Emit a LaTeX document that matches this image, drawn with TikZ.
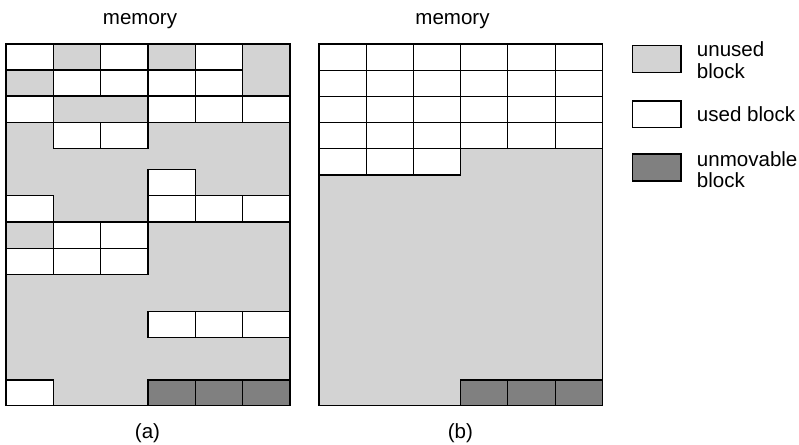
\documentclass[tikz,border=0pt]{standalone}
\usepackage{fontspec}
\setmainfont{Liberation Sans}
\definecolor{unusedgray}{HTML}{D3D3D3}
\definecolor{fixedgray}{HTML}{808080}
\begin{document}
\begin{tikzpicture}[x=0.75pt,y=-0.75pt,
  blk/.style={draw=black,line width=0.9pt},
  usedblk/.style={blk,fill=white},
  fixblk/.style={blk,fill=fixedgray},
  freearea/.style={blk,fill=unusedgray},
  lbl/.style={font=\fontsize{15.4}{18.5}\selectfont,inner sep=0pt}]
\useasboundingbox (0,0) rectangle (799,445);

% ---------- panel (a) ----------
\path[freearea] (6,44) rectangle (290,405.7);
\foreach \c/\t/\b in {0/44/70, 2/44/70, 4/44/70,
  1/70/96, 2/70/96, 3/70/96, 4/70/96,
  0/96/122.3, 3/96/122.3, 4/96/122.3, 5/96/122.3,
  1/122.3/148.3, 2/122.3/148.3,
  3/169.5/195.7,
  0/195.7/222, 3/195.7/222, 4/195.7/222, 5/195.7/222,
  1/222/248.3, 2/222/248.3,
  0/248.3/274.3, 1/248.3/274.3, 2/248.3/274.3,
  3/311.7/337.7, 4/311.7/337.7, 5/311.7/337.7,
  0/380/405.7}
  \draw[usedblk] ({6+\c*47.33},\t) rectangle ({6+(\c+1)*47.33},\b);
\foreach \c in {3,4,5}
  \draw[fixblk] ({6+\c*47.33},380) rectangle ({6+(\c+1)*47.33},405.7);
\draw[blk] (6,44) rectangle (290,405.7);

% ---------- panel (b) ----------
\path[freearea] (319,44) rectangle (602.3,405.7);
\foreach \r/\t/\b in {0/44/70.2, 1/70.2/96.2, 2/96.2/122.3, 3/122.3/148.3}
  \foreach \c in {0,...,5}
    \draw[usedblk] ({319+\c*47.22},\t) rectangle ({319+(\c+1)*47.22},\b);
\foreach \c in {0,1,2}
  \draw[usedblk] ({319+\c*47.22},148.3) rectangle ({319+(\c+1)*47.22},175);
\foreach \c in {3,4,5}
  \draw[fixblk] ({319+\c*47.22},380) rectangle ({319+(\c+1)*47.22},405.7);
\draw[blk] (319,44) rectangle (602.3,405.7);

% ---------- labels ----------
\node[lbl,anchor=base] (mema) at (140,25) {memory};
\node[lbl,anchor=base] (memb) at (452.5,25) {memory};
\node[lbl,anchor=base] (capa) at (147.5,438.5) {(a)};
\node[lbl,anchor=base] (capb) at (460.3,438.5) {(b)};

% ---------- legend ----------
\draw[freearea] (632.7,45.7) rectangle (681,72.3);
\draw[usedblk] (632.7,101) rectangle (681,127.7);
\draw[fixblk] (632.7,154) rectangle (681,181);
\node[lbl,anchor=base west] (lgunusedA) at (696.7,56.7) {unused};
\node[lbl,anchor=base west] (lgunusedB) at (696.7,78.3) {block};
\node[lbl,anchor=base west] (lgused) at (696.7,121.7) {used block};
\node[lbl,anchor=base west] (lgfixA) at (696.7,166.7) {unmovable};
\node[lbl,anchor=base west] (lgfixB) at (696.7,187.5) {block};
\end{tikzpicture}
\end{document}
